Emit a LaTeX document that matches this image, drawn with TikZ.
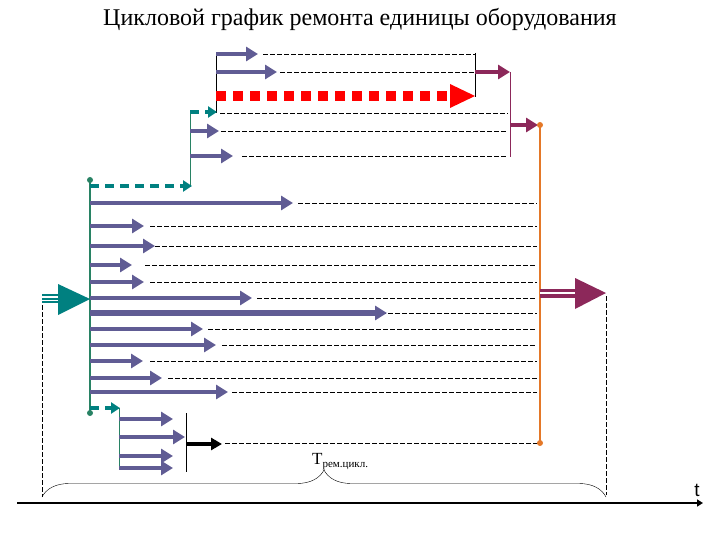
\documentclass[tikz,border=0pt]{standalone}
\usepackage{fontspec}
\setmainfont{Liberation Serif}
\newfontfamily\axisfont{Liberation Sans}
\usepackage{tikz}
\usetikzlibrary{arrows.meta,decorations.pathreplacing}
\definecolor{repcol}{RGB}{96,92,148}
\definecolor{tealcol}{RGB}{0,128,128}
\definecolor{busgreen}{RGB}{40,130,100}
\definecolor{magcol}{RGB}{140,40,90}
\definecolor{orangecol}{RGB}{228,120,40}

\begin{document}
\begin{tikzpicture}[x=1pt,y=-1pt,
  repair/.style={draw=repcol,line width=4.5pt,-{Triangle[length=12pt,width=14pt]}},
  plan/.style={draw=black,dash pattern=on 4.5pt off 2.5pt,line width=0.8pt},
  tealdash/.style={draw=tealcol,line width=3.5pt,dash pattern=on 9pt off 6pt,-{Triangle[length=9pt,width=11pt]}},
  bus/.style={draw=busgreen,line width=2pt},
  thinbus/.style={draw=#1,line width=1pt},
  magarrow/.style={draw=magcol,line width=4.5pt,-{Triangle[length=12pt,width=14pt]}},
  dot/.style={circle,fill=#1,inner sep=0pt,minimum size=6pt}]
\useasboundingbox (0,0) rectangle (720,540);

\node (title) at (360,20) {\fontsize{24}{28}\selectfont Цикловой график ремонта единицы оборудования};

% dashed lines
\foreach \y/\ds in {203/298,226/150,246/155,265/145,282/150,298/257,313/360,329/208,345/222,361/150,378/168,392/232}
  \draw[plan] (\ds,\y) -- (537,\y);
\foreach \y/\ds in {113/220,131/221,156/242}
  \draw[plan] (\ds,\y) -- (508,\y);
\foreach \y/\ds in {54/263,72/280}
  \draw[plan] (\ds,\y) -- (475,\y);
\draw[plan] (225,443) -- (538,443);
\draw[plan] (42,305) -- (42,497);
\draw[plan] (606,296) -- (606,495);

% buses
\coordinate (b1top) at (90,180);
\coordinate (b1bot) at (90,413);
\coordinate (b2top) at (190,112);
\coordinate (b2bot) at (190,186);
\coordinate (b3top) at (216,53);
\coordinate (b3bot) at (216,113);
\coordinate (b4top) at (119,408);
\coordinate (b4bot) at (119,469);
\draw[bus] (b1top) -- (b1bot);
\draw[thinbus=busgreen] (b2top) -- (b2bot);
\draw[thinbus=black] (b3top) -- (b3bot);
\draw[thinbus=busgreen] (b4top) -- (b4bot);
\draw[thinbus=black] (475,53) -- (475,97);
\draw[thinbus=magcol] (510,72) -- (510,157);
\draw[thinbus=black] (186,413) -- (186,472);
\coordinate (otop) at (540,125);
\coordinate (obot) at (540,443);
\draw[draw=orangecol,line width=2pt] (otop) -- (obot);

% works
\foreach \y/\x in {203/293,226/144,246/155,265/132,282/144,298/252,329/203,345/216,361/143,378/162,392/228}
  \draw[repair] (90,\y) -- (\x,\y);
\draw[repair,line width=6pt] (90,313) -- (387,313);
\foreach \y/\x in {131/219,156/233}
  \draw[repair] (190,\y) -- (\x,\y);
\foreach \y/\x in {54/258,72/277}
  \draw[repair] (216,\y) -- (\x,\y);
\foreach \y/\x in {419/173,437/185,456/173,468/173}
  \draw[repair] (119,\y) -- (\x,\y);

\draw[tealdash] (90,186) -- (192,186);
\draw[tealdash] (190,112) -- (217,112);
\draw[tealdash] (90,408) -- (120,408);

\draw[draw=red,line width=10pt,dash pattern=on 10pt off 7pt] (216,96) -- (448,96);
\fill[red] (450,84) -- (475,96) -- (450,108) -- cycle;

\draw[magarrow] (475,72) -- (510,72);
\draw[magarrow] (510,125) -- (538,125);
\draw[draw=black,line width=4pt,-{Triangle[length=11pt,width=12pt]}] (186,444) -- (222,444);

% big arrows
\foreach \y in {295,298.5,302}
  \draw[tealcol,line width=2pt] (42,\y) -- (60,\y);
\fill[tealcol] (58,284) -- (90,299) -- (58,315) -- cycle;
\draw[magcol,line width=3.5pt,double=white,double distance=2pt] (540,293) -- (577,293);
\fill[magcol] (575,278) -- (606,293) -- (575,309) -- cycle;

\node[dot=busgreen] at (b1top) {};
\node[dot=busgreen] at (b1bot) {};
\node[dot=orangecol] at (otop) {};
\node[dot=orangecol] at (obot) {};

% time axis
\draw[decorate,decoration={brace,amplitude=27pt}] (42,497) -- (606,497);
\node[anchor=base west,inner sep=0pt] (tcycle) at (312,464) {\fontsize{17}{19}\selectfont Т\raisebox{-0.5ex}{\fontsize{11}{12}\selectfont рем.цикл.}};
\draw[line width=2.5pt,-{Triangle[length=6pt,width=7pt]}] (17,503) -- (703,503);
\node (tlab) at (697,490) {\axisfont\fontsize{19}{21}\selectfont t};
\end{tikzpicture}
\end{document}
